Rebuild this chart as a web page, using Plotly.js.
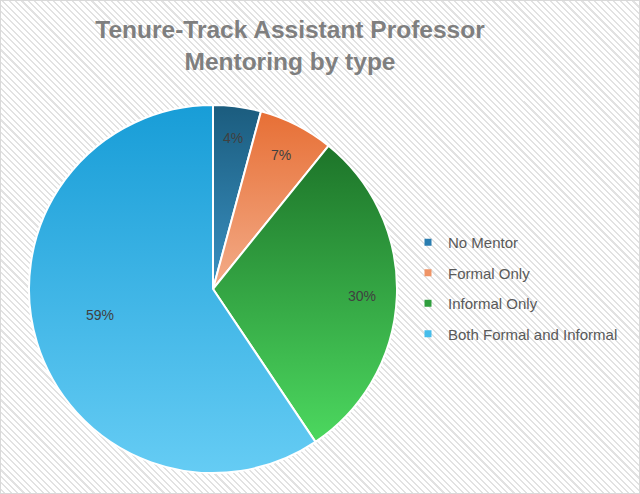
<!DOCTYPE html>
<html>
<head>
<meta charset="utf-8">
<script src="https://cdn.plot.ly/plotly-3.0.1.min.js"></script>
<style>
  html, body { margin: 0; padding: 0; }
  body { width: 640px; height: 494px; overflow: hidden; }
  #wrap {
    position: absolute; left: 0; top: 0; width: 638px; height: 492px;
    border: 1px solid #d9d9d9;
    background: repeating-linear-gradient(45deg, #ffffff 0px, #ffffff 2px, #e2e2e2 2px, #e2e2e2 3.5px, #ffffff 3.5px, #ffffff 4.5px);
  }
  #chart { position: absolute; left: -1px; top: -1px; width: 640px; height: 494px; }
</style>
</head>
<body>
<div id="wrap"><div id="chart"></div></div>
<script>
const categories = ["No Mentor", "Formal Only", "Informal Only", "Both Formal and Informal"];
const shares = [4.2, 6.6, 29.8, 59.4];
const sliceColors = ["#256f99", "#ec8a56", "#33a744", "#3eb6e7"];
const gradTop = ["#1b5c7e", "#e76f35", "#1d7429", "#189dd7"];
const gradBottom = ["#3a91c2", "#f3ac89", "#4cd85f", "#65ccf4"];
const legendColors = ["#2a7db0", "#ef9466", "#2f9e3d", "#46bdeb"];
const labelRadius = [0.83, 0.82, 0.81, 0.63];
const labelAngleShift = [0, 0, 0, 4];
const titleText = "Tenure-Track Assistant Professor<br>Mentoring by type";

const W = 640, H = 494;
const pieX = [29 / W, 397 / W], pieY = [1 - 473 / H, 1 - 105 / H];
const pieTrace = {
  type: "pie",
  labels: categories,
  values: shares,
  sort: false,
  direction: "clockwise",
  rotation: 0,
  marker: { colors: sliceColors, line: { color: "#ffffff", width: 2 } },
  textinfo: "none",
  showlegend: false,
  hoverinfo: "label+percent",
  domain: { x: pieX, y: pieY }
};

const legendTraces = categories.map((c, i) => ({
  type: "scatter",
  mode: "markers",
  x: [null], y: [null],
  name: c,
  legendgroup: "g" + i,
  marker: { symbol: "square", size: 7, color: legendColors[i] },
  showlegend: true,
  hoverinfo: "skip"
}));

// percentage labels placed along each slice's mid-angle
const total = shares.reduce((a, b) => a + b, 0);
const cxPx = (pieX[0] + pieX[1]) / 2 * W, cyPx = (1 - (pieY[0] + pieY[1]) / 2) * H;
const Rpx = (pieY[1] - pieY[0]) * H / 2;
let cum = 0;
const labelAnnotations = shares.map((v, i) => {
  const mid = (cum + v / 2) / total * 2 * Math.PI + labelAngleShift[i] * Math.PI / 180;
  cum += v;
  const r = labelRadius[i] * Rpx;
  const px = cxPx + r * Math.sin(mid), py = cyPx - r * Math.cos(mid);
  return {
    xref: "paper", yref: "paper", x: px / W, y: 1 - py / H,
    xanchor: "center", yanchor: "middle", showarrow: false,
    text: Math.round(v / total * 100) + "%",
    font: { family: "Liberation Sans, Arial, sans-serif", size: 14, color: "#404040" }
  };
});

const layout = {
  width: W, height: H,
  margin: { l: 0, r: 0, t: 0, b: 0 },
  paper_bgcolor: "rgba(0,0,0,0)",
  plot_bgcolor: "rgba(0,0,0,0)",
  title: {
    text: titleText,
    x: 290 / W, xanchor: "center",
    y: 1 - 38 / H, yanchor: "top",
    font: { family: "Liberation Sans, Arial, sans-serif", size: 24.5, color: "#7f7f7f", weight: "bold", lineposition: "none" }
  },
  xaxis: { visible: false, domain: [0.99, 1] },
  yaxis: { visible: false, domain: [0.99, 1] },
  annotations: labelAnnotations,
  showlegend: true,
  legend: {
    x: 408 / W, xanchor: "left",
    y: 1 - 288 / H, yanchor: "middle",
    bgcolor: "rgba(0,0,0,0)",
    tracegroupgap: 8,
    itemclick: false,
    font: { family: "Liberation Sans, Arial, sans-serif", size: 15, color: "#595959" }
  }
};

Plotly.newPlot("chart", [pieTrace].concat(legendTraces), layout, { displayModeBar: false, staticPlot: true }).then(gd => {
  const svg = gd.querySelector("svg.main-svg");
  const ns = "http://www.w3.org/2000/svg";
  let defs = svg.querySelector("defs");
  if (!defs) { defs = document.createElementNS(ns, "defs"); svg.insertBefore(defs, svg.firstChild); }
  gradTop.forEach((t, i) => {
    const g = document.createElementNS(ns, "linearGradient");
    g.setAttribute("id", "sliceGrad" + i);
    g.setAttribute("x1", "0"); g.setAttribute("y1", "0");
    g.setAttribute("x2", "0"); g.setAttribute("y2", "1");
    const s1 = document.createElementNS(ns, "stop");
    s1.setAttribute("offset", "0"); s1.setAttribute("stop-color", t);
    const s2 = document.createElementNS(ns, "stop");
    s2.setAttribute("offset", "1"); s2.setAttribute("stop-color", gradBottom[i]);
    g.appendChild(s1); g.appendChild(s2);
    defs.appendChild(g);
  });
  gd.querySelectorAll(".pielayer .slice").forEach((sl, i) => {
    const p = sl.querySelector("path.surface");
    if (p) p.style.fill = "url(#sliceGrad" + i + ")";
  });
});
</script>
</body>
</html>
